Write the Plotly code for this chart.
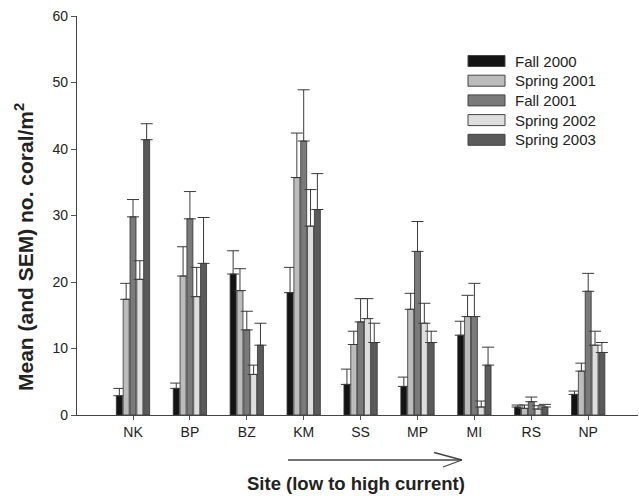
import plotly.graph_objects as go

sites = ["NK", "BP", "BZ", "KM", "SS", "MP", "MI", "RS", "NP"]
series_names = ["Fall 2000", "Spring 2001", "Fall 2001", "Spring 2002", "Spring 2003"]

fall_2000 = [2.9, 4.0, 21.2, 18.4, 4.6, 4.3, 12.0, 1.2, 3.1]
fall_2000_sem = [1.1, 0.8, 3.5, 3.8, 2.3, 1.4, 2.1, 0.3, 0.5]
spring_2001 = [17.4, 20.9, 18.7, 35.7, 10.6, 15.9, 14.8, 1.0, 6.6]
spring_2001_sem = [2.4, 4.4, 3.3, 6.7, 2.0, 2.4, 3.2, 0.5, 1.2]
fall_2001 = [29.8, 29.5, 12.8, 41.2, 14.0, 24.6, 14.8, 2.0, 18.6]
fall_2001_sem = [2.6, 4.1, 2.8, 7.7, 3.5, 4.5, 5.0, 0.7, 2.7]
spring_2002 = [20.4, 17.8, 6.1, 28.4, 14.5, 13.8, 1.2, 0.9, 10.5]
spring_2002_sem = [2.8, 4.4, 1.4, 5.5, 3.0, 3.0, 0.9, 0.5, 2.1]
spring_2003 = [41.4, 22.8, 10.5, 30.9, 10.9, 10.9, 7.5, 1.2, 9.4]
spring_2003_sem = [2.4, 6.9, 3.3, 5.4, 2.9, 1.7, 2.7, 0.4, 1.5]

means = [fall_2000, spring_2001, fall_2001, spring_2002, spring_2003]
sems = [fall_2000_sem, spring_2001_sem, fall_2001_sem, spring_2002_sem, spring_2003_sem]
colors = ["#141414", "#bcbcbc", "#7a7a7a", "#dedede", "#5a5a5a"]

y_ticks = [0, 10, 20, 30, 40, 50, 60]

W, H = 639, 496
L, R, T, B = 77, 1, 16, 81
pw, ph = W - L - R, H - T - B


def px(x):
    return (x - L) / pw


def py(y):
    return (H - B - y) / ph


fig = go.Figure()
for name, m, s, c in zip(series_names, means, sems, colors):
    fig.add_trace(go.Bar(
        x=sites, y=m, name=name,
        marker=dict(color=c, line=dict(color="#333333", width=0.8)),
        error_y=dict(type="data", array=s, arrayminus=[0] * len(s), symmetric=False,
                     color="#3a3a3a", thickness=1, width=6),
        showlegend=False,
    ))

# manual legend with wide swatches
shapes = []
annotations = []
for i, (name, c) in enumerate(zip(series_names, colors)):
    cy = 61 + 19.7 * i
    shapes.append(dict(type="rect", xref="paper", yref="paper",
                       x0=px(468), x1=px(505), y0=py(cy + 5.5), y1=py(cy - 5.5),
                       fillcolor=c, line=dict(color="#444444", width=1)))
    annotations.append(dict(xref="paper", yref="paper", x=px(513), y=py(cy),
                            text=name, showarrow=False, xanchor="left", yanchor="middle",
                            font=dict(family="Liberation Sans, Arial, sans-serif", size=15, color="#222222")))

# current arrow
arrow_y = 460
shapes.append(dict(type="line", xref="paper", yref="paper", x0=px(288), x1=px(462),
                   y0=py(arrow_y), y1=py(arrow_y), line=dict(color="#444444", width=1.5)))
shapes.append(dict(type="line", xref="paper", yref="paper", x0=px(434), x1=px(462),
                   y0=py(452.5), y1=py(arrow_y), line=dict(color="#444444", width=1.3)))
shapes.append(dict(type="line", xref="paper", yref="paper", x0=px(443), x1=px(462),
                   y0=py(467), y1=py(arrow_y), line=dict(color="#444444", width=1.3)))

annotations.append(dict(xref="paper", yref="paper", x=px(356), y=py(483),
                        text="<b>Site (low to high current)</b>", showarrow=False,
                        xanchor="center", yanchor="middle",
                        font=dict(family="Liberation Sans, Arial, sans-serif", size=18.5, color="#222222")))
annotations.append(dict(xref="paper", yref="paper", x=px(24), y=py(247),
                        text="<b>Mean (and SEM) no. coral/m<sup>2</sup></b>", showarrow=False,
                        textangle=-90, xanchor="center", yanchor="middle",
                        font=dict(family="Liberation Sans, Arial, sans-serif", size=21, color="#222222")))

fig.update_layout(
    width=W, height=H,
    margin=dict(l=L, r=R, t=T, b=B, pad=0),
    paper_bgcolor="white", plot_bgcolor="white",
    barmode="group", bargap=0.4, bargroupgap=0.12,
    font=dict(family="Liberation Sans, Arial, sans-serif", size=14, color="#222222"),
    shapes=shapes, annotations=annotations,
    xaxis=dict(type="category", range=[(L - 133) / 56.9, (L - 133) / 56.9 + pw / 56.9],
               showline=True, linecolor="#444444", linewidth=1.2,
               ticks="outside", ticklen=4, tickcolor="#555555", tickwidth=1,
               showgrid=False, zeroline=False, tickfont=dict(size=14)),
    yaxis=dict(range=[0, 60], tickvals=y_ticks, showline=True, linecolor="#444444",
               linewidth=1.2, ticks="outside", ticklen=5, tickcolor="#555555",
               showgrid=False, zeroline=False, tickfont=dict(size=14)),
)

fig.write_html("out.html", config={"displayModeBar": False},
               post_script="document.body.style.margin='0';document.body.style.overflow='hidden';")
